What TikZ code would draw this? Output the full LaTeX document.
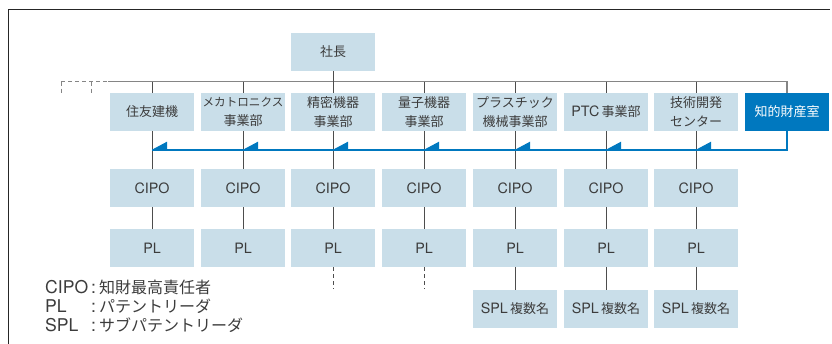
\documentclass[tikz,border=0pt]{standalone}
\usepackage{fontspec}
\setmainfont[Scale=1.1]{TeX Gyre Heros}
\newfontfamily\jp{Noto Sans CJK JP}
\definecolor{boxfill}{HTML}{C9DEE9}
\definecolor{ipblue}{HTML}{0078BF}
\definecolor{txt}{HTML}{3C3C3C}
\definecolor{conngray}{HTML}{4D4D4D}
\definecolor{bargray}{HTML}{858585}
\tikzset{
  box/.style={fill=boxfill, minimum width=84pt, minimum height=38pt, inner sep=0pt,
    align=center, text=txt, font=\fontsize{13}{19}\selectfont\jp},
  ipbox/.style={box, fill=ipblue, text=white},
  conn/.style={draw=conngray, line width=0.9pt},
  topbar/.style={draw=bargray, line width=1.4pt},
  dashline/.style={draw=bargray, line width=1pt, dash pattern=on 4pt off 3pt},
  blueline/.style={draw=ipblue, line width=2pt},
  frameline/.style={draw=black!85, line width=1pt},
  leg/.style={inner sep=0pt, text=txt, font=\fontsize{16}{19}\selectfont}
}
\begin{document}
\begin{tikzpicture}[x=1pt,y=-1pt]
\useasboundingbox (0,0) rectangle (832,344);
\draw[frameline] (8.3,344) -- (8.3,10) -- (830,10);

% president
\node[box] (pres) at (333,52) {社長};
% divisions
\node[box] (d1) at (152,112) {住友建機};
\node[box] (d2) at (243,112) {{\fontsize{11.6}{19}\selectfont メカトロニクス}\\事業部};
\node[box] (d3) at (333,112) {精密機器\\事業部};
\node[box] (d4) at (424,112) {量子機器\\事業部};
\node[box] (d5) at (515,112) {プラスチック\\機械事業部};
\node[box] (d6) at (606,112) {{\rmfamily PTC}\,事業部};
\node[box] (d7) at (696,112) {技術開発\\センター};
\node[ipbox] (ip) at (787,112) {知的財産室};

% CIPO, PL
\foreach \i/\x in {1/152,2/243,3/333,4/424,5/515,6/606,7/696}{
  \node[box] (c\i) at (\x,188) {\rmfamily CIPO};
  \node[box] (p\i) at (\x,248) {\rmfamily PL};
}
\foreach \i/\x in {5/515,6/606,7/696}{
  \node[box] (s\i) at (\x,309) {{\rmfamily SPL}\,複数名};
}

% top bar
\coordinate (barL) at (108,81.7);
\coordinate (dl) at (61,81.7);
\coordinate (dm) at (91,81.7);
\draw[topbar] (barL) -| (ip.north);
\draw[dashline] (dl) -- (barL);
\draw[dashline] (dl) -- ++(0,11);
\draw[dashline] (dm) -- ++(0,11);
\draw[conn] (pres.south) -- (d3.north);
\foreach \i in {1,2,4,5,6,7}{
  \draw[conn] (d\i.north |- barL) -- (d\i.north);
}

% lower connectors
\foreach \i in {1,...,7}{
  \draw[conn] (d\i.south) -- (c\i.north);
  \draw[conn] (c\i.south) -- (p\i.north);
}
\foreach \i in {5,6,7}{
  \draw[conn] (p\i.south) -- (s\i.north);
}
\foreach \i in {3,4}{
  \draw[conn, dash pattern=on 4pt off 3pt] (p\i.south) -- ++(0,22);
}

% blue reporting line
\coordinate (bL) at (152,149.7);
\draw[blueline] (ip.south) |- (bL);
\foreach \i in {1,...,7}{
  \fill[ipblue] (d\i.south |- bL) -- ++(15,0) -- ++(0,-8) -- cycle;
}

% legend
\node[leg, anchor=base west] (l1) at (45,293.3) {CIPO};
\node[leg, anchor=base west] (l1c) at (91,293.3) {:};
\node[leg, anchor=base west] (l1t) at (99,293.3) {\jp 知財最高責任者};
\node[leg, anchor=base west] (l2) at (45,312.3) {PL};
\node[leg, anchor=base west] (l2c) at (91,312.3) {:};
\node[leg, anchor=base west] (l2t) at (99,312.3) {\jp パテントリーダ};
\node[leg, anchor=base west] (l3) at (45,331.3) {SPL};
\node[leg, anchor=base west] (l3c) at (91,331.3) {:};
\node[leg, anchor=base west] (l3t) at (99,331.3) {\jp サブパテントリーダ};
\end{tikzpicture}
\end{document}
